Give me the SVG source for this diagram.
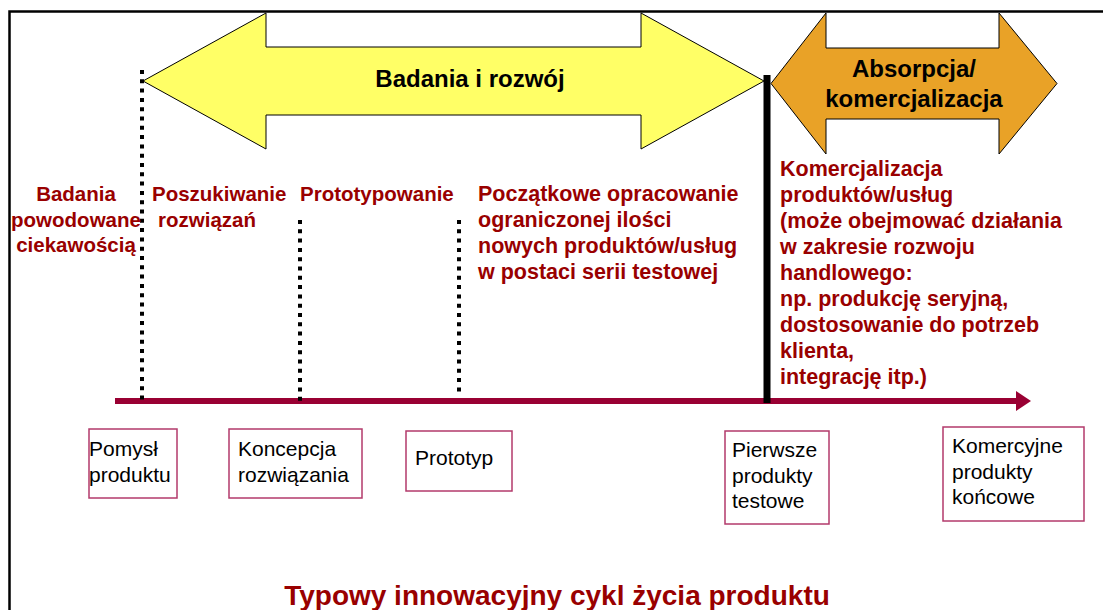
<svg xmlns="http://www.w3.org/2000/svg" width="1103" height="610" viewBox="0 0 1103 610">
<style>
.red{font-family:"Liberation Sans",Arial,sans-serif;font-weight:bold;fill:#990000;font-size:20.5px}
.red2{font-family:"Liberation Sans",Arial,sans-serif;font-weight:bold;fill:#990000;font-size:21.5px}
.hdr{font-family:"Liberation Sans",Arial,sans-serif;font-weight:bold;fill:#000;font-size:24px}
.box{fill:#fff;stroke:#b33a6b;stroke-width:1.5}
.btx{font-family:"Liberation Sans",Arial,sans-serif;fill:#000;font-size:21px}
.dot{stroke:#000;stroke-width:4;stroke-dasharray:4 5.3;fill:none}
</style>
<defs>
<marker id="ah" markerUnits="userSpaceOnUse" markerWidth="16" markerHeight="22" refX="2" refY="11" orient="auto">
<path d="M0,1 L15,11 L0,21 Z" fill="#990033"/>
</marker>
</defs>
<rect x="0" y="0" width="1103" height="610" fill="#fff"/>
<rect x="9.5" y="11.5" width="1200" height="700" fill="none" stroke="#000" stroke-width="2.5"/>

<g id="arrow-rd">
<polygon points="143,81 266,13 266,47 641,47 641,13 764,81 641,149 641,115 266,115 266,149" fill="#FFFF66" stroke="#000" stroke-width="1"/>
<text class="hdr" x="470" y="87" text-anchor="middle">Badania i rozwój</text>
</g>
<g id="arrow-abs">
<polygon points="771,83.5 826,13 826,48 999,48 999,13 1057,83.5 999,154 999,119 826,119 826,154" fill="#E9A227" stroke="#000" stroke-width="1"/>
<text class="hdr" x="914" y="77" text-anchor="middle">Absorpcja/</text>
<text class="hdr" x="914" y="107" text-anchor="middle">komercjalizacja</text>
</g>

<g id="connectors">
<line x1="115" y1="401" x2="1018" y2="401" stroke="#990033" stroke-width="6" marker-end="url(#ah)"/>
<line class="dot" x1="142" y1="70" x2="142" y2="402"/>
<line class="dot" x1="300" y1="220" x2="300" y2="402"/>
<line class="dot" x1="459" y1="220" x2="459" y2="393"/>
<line x1="767" y1="75" x2="767" y2="403" stroke="#000" stroke-width="7"/>
</g>

<g id="phase-curiosity">
<text class="red" x="76" y="201" text-anchor="middle">Badania</text>
<text class="red" x="76" y="226.5" text-anchor="middle">powodowane</text>
<text class="red" x="76" y="252" text-anchor="middle">ciekawością</text>
</g>
<g id="phase-search">
<text class="red" x="152" y="201">Poszukiwanie</text>
<text class="red" x="158" y="226.5">rozwiązań</text>
</g>
<g id="phase-prototyping">
<text class="red" x="300" y="201">Prototypowanie</text>
</g>
<g id="phase-initial">
<text class="red2" x="478" y="201">Początkowe opracowanie</text>
<text class="red2" x="478" y="227">ograniczonej ilości</text>
<text class="red2" x="478" y="253">nowych produktów/usług</text>
<text class="red2" x="478" y="279">w postaci serii testowej</text>
</g>
<g id="phase-commercial">
<text class="red2" x="780" y="176">Komercjalizacja</text>
<text class="red2" x="780" y="202">produktów/usług</text>
<text class="red2" x="780" y="228">(może obejmować działania</text>
<text class="red2" x="780" y="254">w zakresie rozwoju</text>
<text class="red2" x="780" y="280">handlowego:</text>
<text class="red2" x="780" y="306">np. produkcję seryjną,</text>
<text class="red2" x="780" y="332">dostosowanie do potrzeb</text>
<text class="red2" x="780" y="358">klienta,</text>
<text class="red2" x="780" y="384">integrację itp.)</text>
</g>

<g id="box-idea">
<rect class="box" x="89" y="429" width="88" height="69"/>
<text class="btx" x="89" y="456">Pomysł</text>
<text class="btx" x="89" y="482">produktu</text>
</g>
<g id="box-concept">
<rect class="box" x="229" y="429" width="133" height="69"/>
<text class="btx" x="238" y="456">Koncepcja</text>
<text class="btx" x="238" y="482">rozwiązania</text>
</g>
<g id="box-prototype">
<rect class="box" x="406" y="431" width="106" height="60"/>
<text class="btx" x="415" y="465">Prototyp</text>
</g>
<g id="box-test">
<rect class="box" x="725" y="431" width="104" height="93"/>
<text class="btx" x="732" y="457">Pierwsze</text>
<text class="btx" x="732" y="482.5">produkty</text>
<text class="btx" x="732" y="508">testowe</text>
</g>
<g id="box-final">
<rect class="box" x="943" y="427" width="141" height="94"/>
<text class="btx" x="952" y="453">Komercyjne</text>
<text class="btx" x="952" y="478.5">produkty</text>
<text class="btx" x="952" y="504">końcowe</text>
</g>

<text x="557" y="605" text-anchor="middle" style="font-family:'Liberation Sans',Arial,sans-serif;font-weight:bold;fill:#990000;font-size:28px">Typowy innowacyjny cykl życia produktu</text>
</svg>
